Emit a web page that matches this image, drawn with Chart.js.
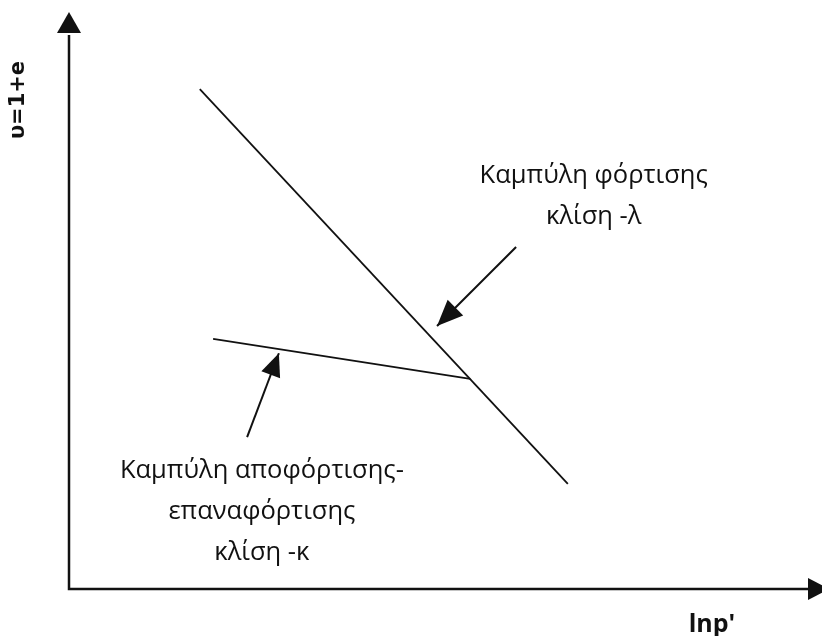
<!DOCTYPE html>
<html>
<head>
<meta charset="utf-8">
<script src="https://cdn.jsdelivr.net/npm/chart.js@4.4.1/dist/chart.umd.min.js"></script>
<style>
  html, body { margin: 0; padding: 0; background: #fff; }
  #wrap { width: 822px; height: 636px; }
</style>
</head>
<body>
<div id="wrap"><canvas id="chart" width="822" height="636"></canvas></div>
<script>
// Axis titles
const xTitle = "lnp'";
const yTitle = "υ=1+e";

// Normal compression line (slope -λ), in lnp' / υ units
const loadingLnp = [17.7, 67.5];
const loadingV = [89.9, 18.9];

// Unloading-reloading line (slope -κ)
const unloadingLnp = [19.5, 54.3];
const unloadingV = [45.0, 37.8];

// Pointer arrows: [tail, tip]
const pointerLoadingLnp = [60.5, 49.8];
const pointerLoadingV = [61.5, 47.3];
const pointerUnloadingLnp = [24.1, 28.4];
const pointerUnloadingV = [27.3, 42.4];

// Annotation texts
const loadingText = ["Καμπύλη φόρτισης", "κλίση -λ"];
const unloadingText = ["Καμπύλη αποφόρτισης-", "επαναφόρτισης", "κλίση -κ"];

const toPoints = (xs, ys) => xs.map((x, i) => ({ x, y: ys[i] }));

const INK = "#111";

function line(label, xs, ys, width) {
    return {
        label,
        data: toPoints(xs, ys),
        showLine: true,
        borderColor: INK,
        borderWidth: width,
        pointRadius: 0,
        pointHoverRadius: 0,
        fill: false,
    };
}

function drawHead(ctx, fromX, fromY, toX, toY, len, half) {
    const ang = Math.atan2(toY - fromY, toX - fromX);
    const bx = toX - Math.cos(ang) * len;
    const by = toY - Math.sin(ang) * len;
    const nx = -Math.sin(ang) * half;
    const ny = Math.cos(ang) * half;
    ctx.beginPath();
    ctx.moveTo(toX, toY);
    ctx.lineTo(bx + nx, by + ny);
    ctx.lineTo(bx - nx, by - ny);
    ctx.closePath();
    ctx.fill();
}

// Axes with arrowheads, pointer heads and the text labels
const sketchOverlay = {
    id: "sketchOverlay",
    afterDatasetsDraw(chart, args, opts) {
        const { ctx, chartArea: a, scales } = chart;
        ctx.save();
        ctx.strokeStyle = INK;
        ctx.fillStyle = INK;

        // axes
        ctx.lineWidth = 2.5;
        ctx.beginPath();
        ctx.moveTo(a.left, a.top + 2);
        ctx.lineTo(a.left, a.bottom);
        ctx.lineTo(a.right, a.bottom);
        ctx.stroke();
        drawHead(ctx, a.left, a.bottom, a.left, a.top - 21, 21, 12);
        drawHead(ctx, a.left, a.bottom, a.right + 21, a.bottom, 21, 11);

        // pointer arrowheads on the last point of each pointer dataset
        opts.pointers.forEach(p => {
            const pts = chart.getDatasetMeta(p.index).data;
            const t = pts[0], h = pts[pts.length - 1];
            drawHead(ctx, t.x, t.y, h.x, h.y, p.len, p.half);
        });

        // labels
        ctx.textAlign = "center";
        ctx.textBaseline = "alphabetic";
        ctx.font = opts.labelFont;
        opts.labels.forEach(l => {
            const cx = scales.x.getPixelForValue(l.x);
            const cy = scales.y.getPixelForValue(l.y);
            l.lines.forEach((s, i) => ctx.fillText(s, cx, cy + i * opts.lineGap));
        });

        // axis titles
        ctx.font = "bold 25px 'Open Sans', sans-serif";
        ctx.fillText(xTitle, a.right - 96, a.bottom + 43);

        ctx.save();
        ctx.translate(a.left - 50, a.top + 67);
        ctx.rotate(-Math.PI / 2);
        ctx.textBaseline = "middle";
        ctx.font = "bold 21px 'DejaVu Sans', sans-serif";
        ctx.fillText(yTitle, 0, 0);
        ctx.restore();

        ctx.restore();
    },
};

new Chart(document.getElementById("chart"), {
    type: "scatter",
    data: {
        datasets: [
            line("loading", loadingLnp, loadingV, 1.8),
            line("unloading", unloadingLnp, unloadingV, 1.8),
            line("pointer-loading", pointerLoadingLnp, pointerLoadingV, 2),
            line("pointer-unloading", pointerUnloadingLnp, pointerUnloadingV, 2),
        ],
    },
    options: {
        responsive: false,
        animation: false,
        events: [],
        layout: { padding: { left: 69, right: 14, top: 33, bottom: 47 } },
        scales: {
            x: { type: "linear", min: 0, max: 100, display: false },
            y: { type: "linear", min: 0, max: 100, display: false },
        },
        plugins: {
            legend: { display: false },
            tooltip: { enabled: false },
            sketchOverlay: {
                labelFont: "25.5px 'Open Sans', sans-serif",
                lineGap: 41,
                labels: [
                    { x: 71.0, y: 73.0, lines: loadingText },
                    { x: 26.1, y: 20.0, lines: unloadingText },
                ],
                pointers: [
                    { index: 2, len: 26, half: 11 },
                    { index: 3, len: 23, half: 10 },
                ],
            },
        },
    },
    plugins: [sketchOverlay],
});
</script>
</body>
</html>
